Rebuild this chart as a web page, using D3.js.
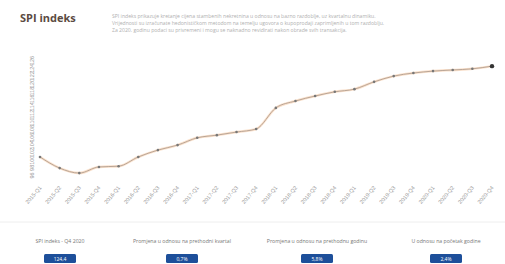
<!DOCTYPE html>
<html>
<head>
<meta charset="utf-8">
<script src="https://cdn.jsdelivr.net/npm/d3@7"></script>
<style>
  body { margin: 0; background: #fff; font-family: "Open Sans", "DejaVu Sans", sans-serif; }
</style>
</head>
<body>
<script>
/* SPI indeks - kvartalni prikaz */

var quarters = ["2015-Q1","2015-Q2","2015-Q3","2015-Q4","2016-Q1","2016-Q2","2016-Q3","2016-Q4",
                "2017-Q1","2017-Q2","2017-Q3","2017-Q4","2018-Q1","2018-Q2","2018-Q3","2018-Q4",
                "2019-Q1","2019-Q2","2019-Q3","2019-Q4","2020-Q1","2020-Q2","2020-Q3","2020-Q4"];
var indexValues = [100.7, 97.8, 96.5, 98.1, 98.3, 100.7, 102.5, 103.8, 105.7, 106.4, 107.2, 108.0,
                   113.5, 115.3, 116.6, 117.7, 118.4, 120.3, 121.8, 122.6, 123.1, 123.4, 123.7, 124.4];
var yTicks = [96, 98, 100, 102, 104, 106, 108, 110, 112, 114, 116, 118, 120, 122, 124, 126];

var kpiLabels = ["SPI indeks - Q4 2020", "Promjena u odnosu na prethodni kvartal",
                 "Promjena u odnosu na prethodnu godinu", "U odnosu na početak godine"];
var kpiValues = ["124,4", "0,7%", "5,8%", "2,4%"];

var descLines = [
  "SPI indeks prikazuje kretanje cijena stambenih nekretnina u odnosu na bazno razdoblje, uz kvartalnu dinamiku.",
  "Vrijednosti su izračunate hedonističkom metodom na temelju ugovora o kupoprodaji zaprimljenih u tom razdoblju.",
  "Za 2020. godinu podaci su privremeni i mogu se naknadno revidirati nakon obrade svih transakcija."
];

var width = 505, height = 264;

var svg = d3.select("body").append("svg")
    .attr("width", width)
    .attr("height", height);

// naslov i opis
svg.append("text")
    .attr("x", 20).attr("y", 22)
    .attr("font-size", 11).attr("font-weight", "bold")
    .attr("fill", "#5b4b42")
    .text("SPI indeks");

svg.selectAll(".desc")
    .data(descLines)
    .enter()
    .append("text")
    .attr("class", "desc")
    .attr("x", 112)
    .attr("y", function(d, i){ return 18 + i * 7; })
    .attr("font-size", 5.1)
    .attr("fill", "#b0b0b0")
    .text(function(d){ return d; });

var x = d3.scalePoint()
    .domain(quarters)
    .range([40, 492]);

var y = d3.scaleLinear()
    .domain([96, 126])
    .range([175, 60]);

// y os
var yAxis = svg.append("g")
    .attr("transform", "translate(36,0)")
    .call(d3.axisLeft(y).tickValues(yTicks).tickSize(0).tickFormat(d3.format("d")));
yAxis.select(".domain").remove();
yAxis.selectAll("text")
    .attr("font-size", 5.5)
    .attr("fill", "#999")
    .attr("x", 0)
    .attr("y", -2)
    .attr("dy", 0)
    .attr("text-anchor", "middle")
    .attr("transform", "rotate(-90)");

// x os
var xAxis = svg.append("g")
    .attr("transform", "translate(-4,182)")
    .call(d3.axisBottom(x).tickSize(0));
xAxis.select(".domain").remove();
xAxis.selectAll("text")
    .attr("font-size", 5.5)
    .attr("fill", "#999")
    .attr("text-anchor", "end")
    .attr("dx", "-0.2em")
    .attr("dy", "0.9em")
    .attr("transform", "rotate(-50)");

var line = d3.line()
    .x(function(d, i){ return x(quarters[i]); })
    .y(function(d){ return y(d); })
    .curve(d3.curveMonotoneX);

svg.append("path")
    .datum(indexValues)
    .attr("fill", "none")
    .attr("stroke", "#f6c49a")
    .attr("stroke-opacity", 0.5)
    .attr("stroke-width", 2.5)
    .attr("d", line);

svg.append("path")
    .datum(indexValues)
    .attr("fill", "none")
    .attr("stroke", "#a89588")
    .attr("stroke-width", 0.8)
    .attr("d", line);

svg.selectAll(".pt")
    .data(indexValues)
    .enter()
    .append("circle")
    .attr("class", "pt")
    .attr("cx", function(d, i){ return x(quarters[i]); })
    .attr("cy", function(d){ return y(d); })
    .attr("r", function(d, i){ return i == indexValues.length - 1 ? 2.2 : 1.3; })
    .attr("fill", function(d, i){ return i == indexValues.length - 1 ? "#333" : "#777"; });

// razdjelnik
svg.append("line")
    .attr("x1", 0).attr("x2", width)
    .attr("y1", 222).attr("y2", 222)
    .attr("stroke", "#eee");

// KPI blokovi
var kpiX = [60, 182, 317, 446];
var kpi = svg.selectAll(".kpi")
    .data(kpiLabels)
    .enter()
    .append("g")
    .attr("class", "kpi")
    .attr("transform", function(d, i){ return "translate(" + kpiX[i] + ",0)"; });

kpi.append("text")
    .attr("y", 243)
    .attr("text-anchor", "middle")
    .attr("font-size", 5.2)
    .attr("fill", "#777")
    .text(function(d){ return d; });

kpi.append("rect")
    .attr("x", -16).attr("y", 254)
    .attr("width", 32).attr("height", 9)
    .attr("rx", 1.5)
    .attr("fill", "#1d4f9a");

kpi.append("text")
    .attr("y", 260.5)
    .attr("text-anchor", "middle")
    .attr("font-size", 5)
    .attr("fill", "#fff")
    .text(function(d, i){ return kpiValues[i]; });
</script>
</body>
</html>
